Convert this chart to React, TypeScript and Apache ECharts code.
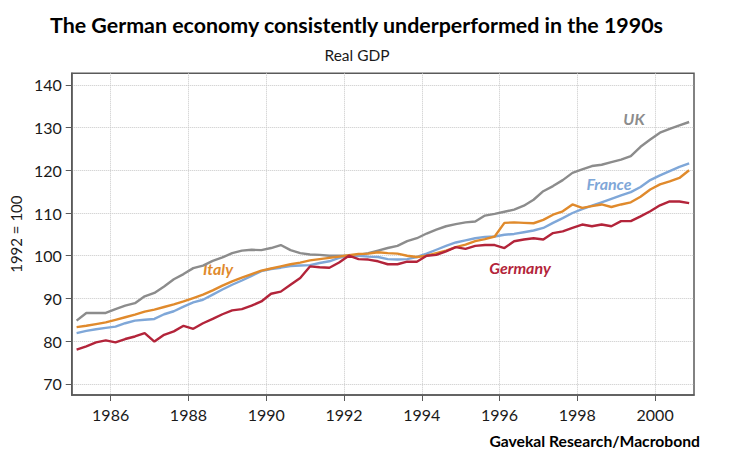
import React, { useEffect, useRef } from 'react';
import * as echarts from 'echarts';

// quarterly observations, 1985Q1 .. 2000Q4 (index 1992 = 100)
const years = [1985, 1986, 1987, 1988, 1989, 1990, 1991, 1992, 1993, 1994, 1995, 1996, 1997, 1998, 1999, 2000];
const quarterOffsets = [0.125, 0.375, 0.625, 0.875];

const ukValues = [
    84.8, 86.6, 86.6, 86.6,
    87.5, 88.3, 88.9, 90.5,
    91.3, 92.8, 94.5, 95.7,
    97.1, 97.7, 98.8, 99.6,
    100.6, 101.2, 101.4, 101.3,
    101.8, 102.5, 101.3, 100.6,
    100.3, 100.2, 100.0, 100.0,
    100.0, 100.2, 100.6, 101.2,
    101.8, 102.3, 103.4, 104.1,
    105.2, 106.1, 106.9, 107.4,
    107.8, 108.0, 109.4, 109.8,
    110.3, 110.8, 111.7, 113.1,
    115.1, 116.3, 117.7, 119.4,
    120.2, 121.0, 121.3, 121.9,
    122.5, 123.3, 125.5, 127.2,
    128.8, 129.7, 130.5, 131.3,
];

const franceValues = [
    81.9, 82.4, 82.8, 83.1,
    83.4, 84.2, 84.8, 85.0,
    85.2, 86.3, 87.0, 88.1,
    89.1, 89.7, 90.9, 92.1,
    93.2, 94.2, 95.3, 96.4,
    96.9, 97.2, 97.6, 97.7,
    97.8, 98.3, 98.7, 99.5,
    100.0, 100.0, 99.8, 99.7,
    99.2, 99.1, 99.2, 99.7,
    100.5, 101.4, 102.3, 103.1,
    103.6, 104.1, 104.4, 104.5,
    104.9, 105.1, 105.5, 105.9,
    106.5, 107.7, 108.8, 110.0,
    110.9, 111.7, 112.5, 113.3,
    114.1, 114.9, 116.1, 117.7,
    118.8, 119.8, 120.8, 121.6,
];

const italyValues = [
    83.3, 83.6, 84.0, 84.4,
    85.0, 85.6, 86.2, 86.9,
    87.4, 88.0, 88.6, 89.3,
    90.1, 90.9, 91.9, 93.0,
    94.0, 94.9, 95.7, 96.5,
    97.0, 97.5, 98.0, 98.4,
    98.9, 99.2, 99.5, 99.8,
    100.1, 100.4, 100.5, 100.8,
    100.6, 100.5, 100.0, 99.7,
    100.0, 100.6, 101.2, 102.0,
    102.6, 103.4, 103.9, 104.5,
    107.7, 107.8, 107.7, 107.6,
    108.4, 109.6, 110.4, 112.0,
    111.2, 111.6, 112.0, 111.4,
    112.0, 112.5, 113.8, 115.5,
    116.7, 117.4, 118.2, 120.0,
];

const germanyValues = [
    78.0, 78.8, 79.7, 80.2,
    79.7, 80.5, 81.1, 81.9,
    79.9, 81.5, 82.3, 83.6,
    82.9, 84.2, 85.2, 86.3,
    87.2, 87.5, 88.3, 89.3,
    91.1, 91.6, 93.2, 94.8,
    97.5, 97.3, 97.2, 98.4,
    100.0, 99.2, 99.1, 98.7,
    98.0, 98.0, 98.6, 98.6,
    100.0, 100.2, 101.0, 102.0,
    101.6, 102.3, 102.5, 102.5,
    101.8, 103.4, 103.8, 104.1,
    103.8, 105.3, 105.7, 106.5,
    107.3, 106.9, 107.3, 106.9,
    108.1, 108.1, 109.2, 110.4,
    111.8, 112.7, 112.7, 112.3,
];

const xTicks = [1986, 1988, 1990, 1992, 1994, 1996, 1998, 2000];
const yTicks = [70, 80, 90, 100, 110, 120, 130, 140];

const COLORS = {
    uk: '#8c8c8c',
    france: '#7fa7d8',
    italy: '#e08a2c',
    germany: '#b3243a',
};

const quarters = years.flatMap(y => quarterOffsets.map(q => y + q));
const toPairs = (vals: number[]) => vals.map((v, i) => [quarters[i], v]);

const axisColor = '#5a5a5a';
const FONT = 'Lato';

const label = (text: string, x: number, y: number, color: string) => ({
    type: 'text',
    x,
    y,
    style: {
        text,
        fill: color,
        fontFamily: FONT,
        fontSize: 16,
        fontWeight: 'bold',
        fontStyle: 'italic',
        align: 'center',
        verticalAlign: 'middle',
        textAlign: 'center',
        textVerticalAlign: 'middle',
    },
});

const App: React.FC = () => {
    const chartRef = useRef<HTMLDivElement | null>(null);

    useEffect(() => {
        if (!chartRef.current) return;
        const chart = echarts.init(chartRef.current, null, { renderer: 'svg' });

        const lineSeries = (name: string, vals: number[], color: string) => ({
            name,
            type: 'line',
            data: toPairs(vals),
            showSymbol: false,
            lineStyle: { color, width: 2.4 },
            itemStyle: { color },
        });

        chart.setOption({
            animation: false,
            textStyle: { fontFamily: FONT },
            grid: {
                left: 66.7,
                right: 38,
                top: 73.3,
                bottom: 67,
                show: true,
                borderColor: axisColor,
                borderWidth: 1.5,
            },
            xAxis: {
                type: 'value',
                min: 1985,
                max: 2001,
                axisLine: { show: true, lineStyle: { color: axisColor, width: 1.5 } },
                axisTick: { show: true, customValues: xTicks, length: 6, lineStyle: { color: axisColor } },
                axisLabel: {
                    customValues: xTicks,
                    margin: 11,
                    fontSize: 16,
                    color: '#1a1a1a',
                    fontFamily: FONT,
                    formatter: (v: number) => String(v),
                },
                splitLine: { show: true, lineStyle: { type: 'dotted', color: '#c8c8c8', width: 1 } },
            },
            yAxis: {
                type: 'value',
                min: 67.4,
                max: 142.7,
                name: '1992 = 100',
                nameLocation: 'middle',
                nameGap: 48,
                nameRotate: 90,
                nameTextStyle: { fontSize: 15, color: '#1a1a1a', fontFamily: FONT },
                axisLine: { show: true, lineStyle: { color: axisColor, width: 1.5 } },
                axisTick: { show: true, customValues: yTicks, length: 6, lineStyle: { color: axisColor } },
                axisLabel: {
                    customValues: yTicks,
                    margin: 10,
                    fontSize: 16,
                    color: '#1a1a1a',
                    fontFamily: FONT,
                    formatter: (v: number) => String(v),
                },
                splitLine: { show: true, lineStyle: { type: 'dotted', color: '#c8c8c8', width: 1 } },
            },
            series: [
                lineSeries('UK', ukValues, COLORS.uk),
                lineSeries('France', franceValues, COLORS.france),
                lineSeries('Italy', italyValues, COLORS.italy),
                lineSeries('Germany', germanyValues, COLORS.germany),
            ],
            graphic: [
                {
                    type: 'text',
                    x: 50,
                    y: 25,
                    style: {
                        text: 'The German economy consistently underperformed in the 1990s',
                        fill: '#000',
                        fontFamily: FONT,
                        fontSize: 21.4,
                        fontWeight: 'bold',
                        align: 'left',
                        verticalAlign: 'middle',
                        textAlign: 'left',
                        textVerticalAlign: 'middle',
                    },
                },
                {
                    type: 'text',
                    x: 357,
                    y: 55,
                    style: {
                        text: 'Real GDP',
                        fill: '#1a1a1a',
                        fontFamily: FONT,
                        fontSize: 15.5,
                        align: 'center',
                        verticalAlign: 'middle',
                        textAlign: 'center',
                        textVerticalAlign: 'middle',
                    },
                },
                {
                    type: 'text',
                    x: 700,
                    y: 441,
                    style: {
                        text: 'Gavekal Research/Macrobond',
                        fill: '#000',
                        fontFamily: FONT,
                        fontSize: 15.7,
                        fontWeight: 'bold',
                        align: 'right',
                        verticalAlign: 'middle',
                        textAlign: 'right',
                        textVerticalAlign: 'middle',
                    },
                },
                label('UK', 634, 118, COLORS.uk),
                label('France', 609, 183, COLORS.france),
                label('Italy', 218, 268, COLORS.italy),
                label('Germany', 520, 267, COLORS.germany),
            ],
        });

        return () => {
            chart.dispose();
        };
    }, []);

    return (
        <div
            ref={chartRef}
            style={{ position: 'absolute', left: 0, top: 0, width: '732px', height: '462px', background: '#fff' }}
        />
    );
};

export default App;
